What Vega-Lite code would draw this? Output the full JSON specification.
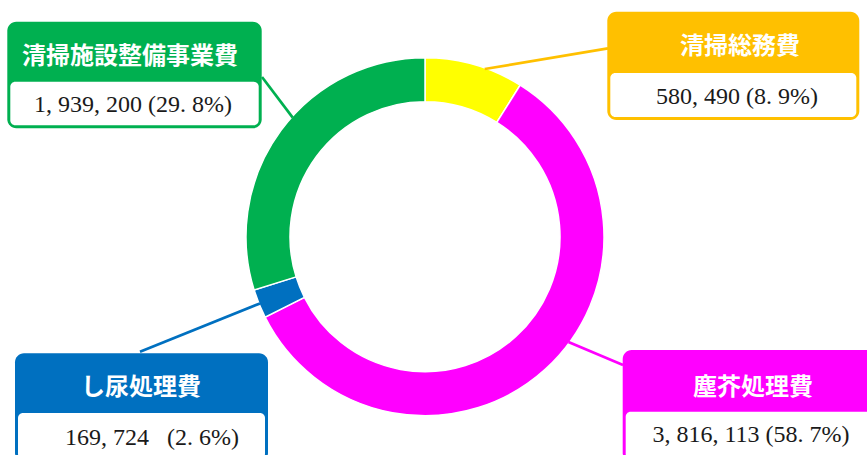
{
  "$schema": "https://vega.github.io/schema/vega-lite/v6.json",
  "width": 867,
  "height": 455,
  "autosize": "none",
  "padding": 0,
  "background": "white",
  "config": {"view": {"stroke": null}},
  "data": {
    "values": [
      {"cat": "清掃総務費", "value": 580490, "label": "580, 490 (8. 9%)"},
      {"cat": "塵芥処理費", "value": 3816113, "label": "3, 816, 113 (58. 7%)"},
      {"cat": "し尿処理費", "value": 169724, "label": "169, 724\u00a0\u00a0\u00a0(2. 6%)"},
      {"cat": "清掃施設整備事業費", "value": 1939200, "label": "1, 939, 200 (29. 8%)"}
    ]
  },
  "transform": [
    {"window": [{"op": "row_number", "as": "idx"}, {"op": "sum", "field": "value", "as": "cum"}], "frame": [null, 0]},
    {"joinaggregate": [{"op": "sum", "field": "value", "as": "total"}]},
    {"calculate": "2*PI*(datum.cum - datum.value/2)/datum.total", "as": "mid"},
    {"calculate": "floor(datum.mid/(PI/2))", "as": "q"},
    {"calculate": "[19.6, 126.3, 248.0, 312.0][datum.q]*PI/180", "as": "la"},
    {"calculate": "178*sin(datum.la)", "as": "lx"},
    {"calculate": "-178*cos(datum.la)", "as": "ly"},
    {"calculate": "[183, 198, -285, -163][datum.q]", "as": "ex"},
    {"calculate": "[-188.4, 128.3, 115, -159.7][datum.q]", "as": "ey"},
    {"calculate": "[182.3, 197.7, -410, -417.7][datum.q]", "as": "bx1"},
    {"calculate": "[434.3, 450, -157, -163.3][datum.q]", "as": "bx2"},
    {"calculate": "[-225, 113.3, 116.6, -215][datum.q]", "as": "by1"},
    {"calculate": "[-163.7, 175, 176.3, -155][datum.q]", "as": "byh"},
    {"calculate": "[-116.7, 225, 225, -108.4][datum.q]", "as": "by2"},
    {"calculate": "datum.bx1 + 3", "as": "ix1"},
    {"calculate": "datum.bx2 - 3", "as": "ix2"},
    {"calculate": "datum.by2 - 3", "as": "iy2"},
    {"calculate": "[315, 328, -284, -295][datum.q]", "as": "hx"},
    {"calculate": "[-190, 151.3, 150.8, -180.2][datum.q]", "as": "hy"},
    {"calculate": "[312, 326, -273, -292][datum.q]", "as": "tx"},
    {"calculate": "[-139.7, 198.3, 201.3, -131.7][datum.q]", "as": "ty"}
  ],
  "layer": [
    {
      "mark": {"type": "arc", "outerRadius": 179, "innerRadius": 135, "stroke": "white", "strokeWidth": 1.5},
      "encoding": {
        "x": {"datum": 0, "type": "quantitative", "scale": {"domain": [-425, 442], "nice": false, "zero": false}, "axis": null},
        "y": {"datum": 0, "type": "quantitative", "scale": {"domain": [-236.7, 218.3], "nice": false, "zero": false, "reverse": true}, "axis": null},
        "theta": {"field": "value", "type": "quantitative", "stack": true},
        "order": {"field": "idx", "type": "quantitative"},
        "fill": {"field": "cat", "type": "nominal", "legend": null,
          "scale": {"domain": ["清掃総務費", "塵芥処理費", "し尿処理費", "清掃施設整備事業費"], "range": ["#FFFF00", "#FF00FF", "#0070C0", "#00B050"]}}
      }
    },
    {
      "mark": {"type": "rule", "strokeWidth": 2.7},
      "encoding": {
        "x": {"field": "lx", "type": "quantitative", "scale": {"domain": [-425, 442], "nice": false, "zero": false}, "axis": null},
        "y": {"field": "ly", "type": "quantitative", "scale": {"domain": [-236.7, 218.3], "nice": false, "zero": false, "reverse": true}, "axis": null},
        "x2": {"field": "ex"},
        "y2": {"field": "ey"},
        "color": {"field": "cat", "type": "nominal", "legend": null,
          "scale": {"domain": ["清掃総務費", "塵芥処理費", "し尿処理費", "清掃施設整備事業費"], "range": ["#FFC000", "#FF00FF", "#0070C0", "#00B050"]}}
      }
    },
    {
      "mark": {"type": "rect", "cornerRadius": 9},
      "encoding": {
        "x": {"field": "bx1", "type": "quantitative", "scale": {"domain": [-425, 442], "nice": false, "zero": false}, "axis": null},
        "y": {"field": "by1", "type": "quantitative", "scale": {"domain": [-236.7, 218.3], "nice": false, "zero": false, "reverse": true}, "axis": null},
        "x2": {"field": "bx2"},
        "y2": {"field": "by2"},
        "color": {"field": "cat", "type": "nominal", "legend": null,
          "scale": {"domain": ["清掃総務費", "塵芥処理費", "し尿処理費", "清掃施設整備事業費"], "range": ["#FFC000", "#FF00FF", "#0070C0", "#00B050"]}}
      }
    },
    {
      "mark": {"type": "rect", "cornerRadius": 5, "fill": "white"},
      "encoding": {
        "x": {"field": "ix1", "type": "quantitative", "scale": {"domain": [-425, 442], "nice": false, "zero": false}, "axis": null},
        "y": {"field": "byh", "type": "quantitative", "scale": {"domain": [-236.7, 218.3], "nice": false, "zero": false, "reverse": true}, "axis": null},
        "x2": {"field": "ix2"},
        "y2": {"field": "iy2"}
      }
    },
    {
      "mark": {"type": "text", "font": "Noto Sans CJK JP", "fontWeight": "bold", "fontSize": 24, "fill": "white", "align": "center", "baseline": "middle"},
      "encoding": {
        "x": {"field": "hx", "type": "quantitative", "scale": {"domain": [-425, 442], "nice": false, "zero": false}, "axis": null},
        "y": {"field": "hy", "type": "quantitative", "scale": {"domain": [-236.7, 218.3], "nice": false, "zero": false, "reverse": true}, "axis": null},
        "text": {"field": "cat"}
      }
    },
    {
      "mark": {"type": "text", "font": "Liberation Serif", "fontSize": 24, "fill": "#1a1a1a", "align": "center", "baseline": "middle"},
      "encoding": {
        "x": {"field": "tx", "type": "quantitative", "scale": {"domain": [-425, 442], "nice": false, "zero": false}, "axis": null},
        "y": {"field": "ty", "type": "quantitative", "scale": {"domain": [-236.7, 218.3], "nice": false, "zero": false, "reverse": true}, "axis": null},
        "text": {"field": "label"}
      }
    }
  ]
}
